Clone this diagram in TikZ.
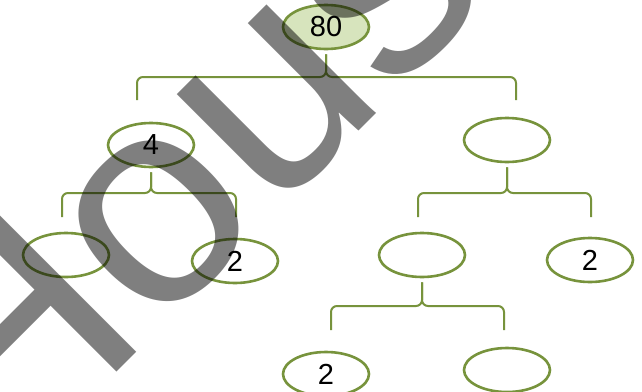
\documentclass[tikz,border=0pt]{standalone}
\usepackage{fontspec}
\usepackage{graphicx}
\setmainfont{Liberation Sans}
\usetikzlibrary{shapes.geometric,calc}
\definecolor{olv}{HTML}{77933C}
\definecolor{lgreen}{HTML}{D7E4BD}
\tikzset{
  oval/.style={ellipse, draw=olv, line width=2.6pt, minimum width=86pt, minimum height=44pt, inner sep=0pt, font=\fontsize{29}{32}\selectfont},
  brk/.style={draw=olv, line width=2pt, rounded corners=6pt},
  wmark/.style={rotate=45, text=black, text opacity=0.5, inner sep=0pt, font=\fontsize{292}{292}\selectfont},
}
\newcommand{\mybrace}[5]{%
  \draw[brk] ([yshift=-4pt]#1.south) -- (#1.south |- 0,#2) -| (#3,#5);
  \draw[brk] ([yshift=-4pt]#1.south) -- (#1.south |- 0,#2) -| (#4,#5);
}
\begin{document}
\begin{tikzpicture}[x=1pt,y=-1pt]
\useasboundingbox (0,0) rectangle (642,391);
\clip (0,0) rectangle (642,391);
\fill[white] (0,0) rectangle (642,391);
% nodes
\node[oval, fill=lgreen] (root) at (326,27) {80};
\node[oval] (a) at (151,145) {4};
\node[oval] (b) at (507,140) {};
\node[oval] (aa) at (66,255) {};
\node[oval] (ab) at (235,261) {2};
\node[oval] (ba) at (422,255) {};
\node[oval] (bb) at (590,260) {2};
\node[oval] (baa) at (326,374) {2};
\node[oval] (bab) at (507,370) {};
% brackets
\mybrace{root}{77}{137}{516}{100}
\mybrace{a}{193}{62}{236}{217}
\mybrace{b}{193}{418}{591}{217}
\mybrace{ba}{306}{331}{504}{330}
% watermark
\node[wmark] (wm) at (179,170.6) {\scalebox{1.03}[1]{Hous}};
\end{tikzpicture}
\end{document}
